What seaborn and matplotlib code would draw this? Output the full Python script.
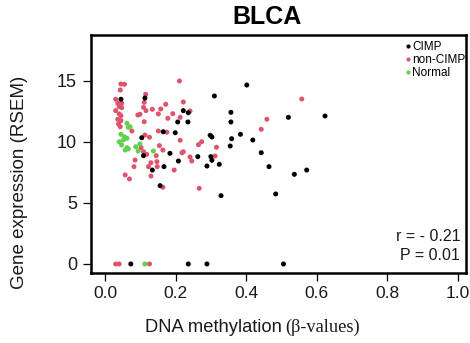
import numpy as np
import pandas as pd
import matplotlib
matplotlib.use("Agg")
import matplotlib.pyplot as plt
from matplotlib.lines import Line2D
import seaborn as sns

# ---------------- data ----------------
cimp_x = [0.045, 0.113, 0.104, 0.109, 0.165, 0.184, 0.134, 0.167, 0.156, 0.310,
          0.222, 0.236, 0.357, 0.206, 0.235, 0.357, 0.199, 0.298, 0.303, 0.359,
          0.384, 0.355, 0.263, 0.300, 0.303, 0.208, 0.289, 0.324, 0.329, 0.402,
          0.520, 0.624, 0.419, 0.443, 0.465, 0.537, 0.572, 0.484,
          0.073, 0.236, 0.289, 0.506]
cimp_y = [13.5, 13.6, 10.35, 8.88, 10.84, 9.07, 7.70, 7.98, 6.42, 13.77,
          12.57, 12.40, 12.43, 11.64, 11.64, 11.64, 10.76, 10.55, 10.41, 10.27,
          10.63, 9.67, 8.80, 8.80, 8.50, 8.44, 8.03, 8.17, 5.60, 14.67,
          12.02, 12.13, 10.16, 9.12, 7.98, 7.35, 7.70, 5.74,
          0, 0, 0, 0]

noncimp_x = [0.045, 0.055, 0.043, 0.030, 0.036, 0.047, 0.040, 0.047, 0.030, 0.040,
             0.045, 0.036, 0.045, 0.038, 0.043, 0.076, 0.115, 0.111, 0.109, 0.116,
             0.093, 0.099, 0.111, 0.134, 0.151, 0.158, 0.172, 0.178, 0.192, 0.211,
             0.222, 0.241, 0.213, 0.113, 0.126, 0.151, 0.175, 0.213, 0.274, 0.265,
             0.316, 0.154, 0.164, 0.222, 0.218, 0.145, 0.102, 0.109, 0.118, 0.312,
             0.241, 0.246, 0.130, 0.148, 0.196, 0.123, 0.147, 0.085, 0.082, 0.130,
             0.057, 0.069, 0.164, 0.267, 0.443, 0.459, 0.558,
             0.030, 0.040, 0.126]
noncimp_y = [14.75, 14.73, 14.26, 13.50, 13.17, 13.17, 12.89, 12.81, 12.57, 12.30,
             12.16, 11.86, 11.75, 11.48, 11.25, 10.90, 13.91, 13.25, 12.84, 12.57,
             12.21, 12.27, 11.66, 12.68, 12.30, 12.70, 13.09, 11.94, 12.32, 15.0,
             13.28, 12.54, 12.02, 10.57, 10.39, 10.90, 10.80, 10.14, 10.02, 9.78,
             9.57, 9.70, 9.34, 9.20, 9.12, 8.88, 9.53, 9.20, 8.99, 8.85,
             8.77, 8.44, 8.30, 7.98, 7.70, 7.98, 8.39, 8.52, 7.98, 7.21,
             7.30, 6.97, 6.29, 6.20, 11.04, 11.86, 13.52,
             0, 0, 0]

normal_x = [0.062, 0.066, 0.071, 0.045, 0.055, 0.062, 0.052, 0.040, 0.047, 0.062,
            0.066, 0.057, 0.087, 0.094, 0.137, 0.099, 0.113]
normal_y = [11.53, 11.2, 11.25, 10.63, 10.43, 10.30, 10.16, 10.02, 9.75, 9.53,
            9.43, 9.34, 9.61, 9.26, 9.26, 9.84, 0]

groups = ["CIMP", "non-CIMP", "Normal"]
colors = {"CIMP": "#000000", "non-CIMP": "#DF536B", "Normal": "#61D04F"}
x_ticks = [0.0, 0.2, 0.4, 0.6, 0.8, 1.0]
x_ticklabels = ["0.0", "0.2", "0.4", "0.6", "0.8", "1.0"]
y_ticks = [0, 5, 10, 15]
title = "BLCA"
stat_text = ["r = - 0.21", "P = 0.01"]

df = pd.concat([
    pd.DataFrame({"x": noncimp_x, "y": noncimp_y, "group": "non-CIMP"}),
    pd.DataFrame({"x": normal_x, "y": normal_y, "group": "Normal"}),
    pd.DataFrame({"x": cimp_x, "y": cimp_y, "group": "CIMP"}),
], ignore_index=True)

# ---------------- plot ----------------
sns.set_theme(style="white")
plt.rcParams["font.family"] = ["Liberation Sans", "DejaVu Sans"]
TXT = "#1a1a1a"

W, H = 470, 343
fig = plt.figure(figsize=(W / 100, H / 100), dpi=100)
ax = fig.add_axes([91 / W, 1 - 273 / H, (466 - 91) / W, (273 - 35) / H])

sns.scatterplot(data=df, x="x", y="y", hue="group", palette=colors,
                s=13, linewidth=0, legend=False, ax=ax)

ax.set_xlim(-0.04, 1.024)
ax.set_ylim(-0.74, 18.77)
ax.set_xticks(x_ticks)
ax.set_xticklabels(x_ticklabels)
ax.set_yticks(y_ticks)
ax.set_xlabel("")
ax.set_ylabel("")
for sp in ax.spines.values():
    sp.set_visible(True)
    sp.set_color("black")
    sp.set_linewidth(1.8)
ax.tick_params(axis="both", which="both", direction="out", length=6, width=0.9,
               color="black", bottom=True, left=True, top=False, right=False)
ax.tick_params(axis="x", labelsize=12.5, pad=3, labelcolor=TXT)
ax.tick_params(axis="y", labelsize=13, pad=4, labelcolor=TXT)

# title
fig.text(267.5 / W, 1 - 17.5 / H, title, ha="center", va="center",
         fontsize=18, fontweight="bold", color="black")

# axis labels
fig.text(282 / W, 1 - 327 / H, "DNA methylation", ha="right", va="center",
         fontsize=13.2, color=TXT)
fig.text(285 / W, 1 - 327 / H, "(\u03b2-values)", ha="left", va="center",
         fontsize=13.2, family=["Liberation Serif", "DejaVu Serif"], color=TXT)
fig.text(20 / W, 1 - 182.5 / H, "Gene expression (RSEM)", ha="center", va="center",
         rotation=90, fontsize=13.5, color=TXT)

# stats
ax.text(460 / W, 1 - 236.5 / H, stat_text[0], transform=fig.transFigure,
        ha="right", va="center", fontsize=11.5, color=TXT)
ax.text(460 / W, 1 - 255 / H, stat_text[1], transform=fig.transFigure,
        ha="right", va="center", fontsize=11.5, color=TXT)

# legend
handles = [Line2D([], [], marker="o", linestyle="none", markersize=3,
                  markerfacecolor=colors[g], markeredgewidth=0) for g in groups]
leg = ax.legend(handles, groups, loc="upper left",
                bbox_to_anchor=(406 / W, 1 - 41 / H), bbox_transform=fig.transFigure,
                frameon=False, fontsize=8.5, handlelength=0.35, handletextpad=0.15,
                labelspacing=0.1, borderpad=0, borderaxespad=0)
for t in leg.get_texts():
    t.set_color("black")

fig.savefig("out.png", dpi=100)
